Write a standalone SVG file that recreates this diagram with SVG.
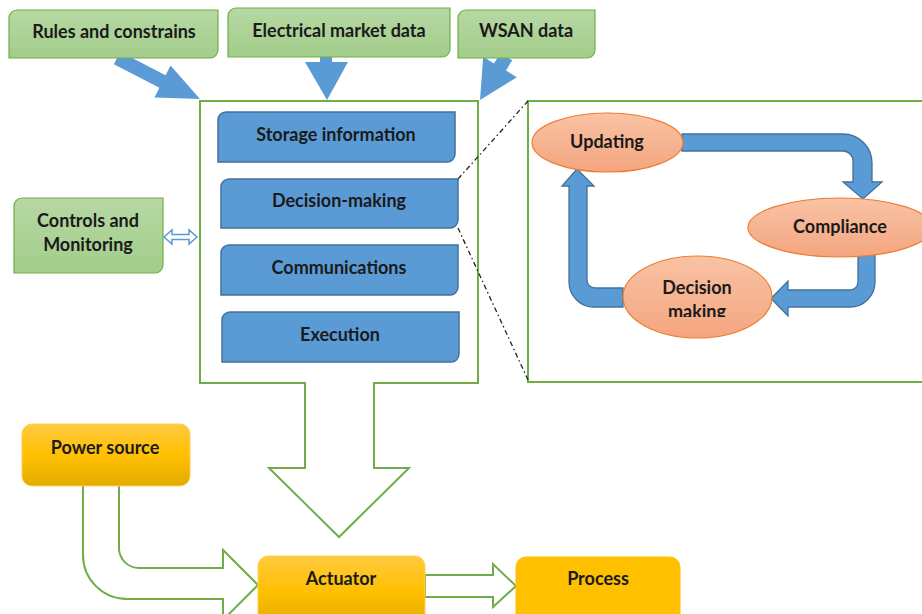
<svg xmlns="http://www.w3.org/2000/svg" width="922" height="614" viewBox="0 0 922 614">
<style>
text{font-family:Lato,"Liberation Sans",sans-serif;font-weight:bold;font-size:18px;fill:#1a1a1a;text-anchor:middle;dominant-baseline:central}
.g{fill:url(#gg);stroke:#70ad47;stroke-width:1.2}
.b{fill:#5b9bd5;stroke:#41719c;stroke-width:1.5}
.y{fill:url(#yg);stroke:#ffd24d;stroke-width:1}
.e{fill:url(#og);stroke:#ed7d31;stroke-width:1.2}
.ba{fill:#5b9bd5;stroke:#41719c;stroke-width:1.3}
.ta{fill:#5b9bd5;stroke:none}
.ho{fill:#fff;stroke:#70ad47;stroke-width:2}
.dd{fill:none;stroke:#222;stroke-width:1.3;stroke-dasharray:5 3 1.5 3}
</style>
<defs>
<linearGradient id="gg" x1="0" y1="0" x2="0" y2="1"><stop offset="0" stop-color="#b7d8a4"/><stop offset="1" stop-color="#a2cd8a"/></linearGradient>
<linearGradient id="yg" x1="0" y1="0" x2="0" y2="1"><stop offset="0" stop-color="#ffc940"/><stop offset="0.5" stop-color="#ffc000"/><stop offset="1" stop-color="#e3ab00"/></linearGradient>
<linearGradient id="og" x1="0" y1="0" x2="0" y2="1"><stop offset="0" stop-color="#f8c3a5"/><stop offset="1" stop-color="#f4a57f"/></linearGradient>
<clipPath id="dmclip"><rect x="600" y="250" width="200" height="67"/></clipPath>
</defs>
<rect width="922" height="614" fill="#fff"/>

<g id="main-box">
  <path class="ho" d="M200,101 L478,101 L478,383 L374,383 L374,468 L409,468 L339,537 L269,468 L305,468 L305,383 L200,383 Z"/>
</g>
<g id="detail-box">
  <rect x="528" y="101" width="400" height="281" fill="#fff" stroke="#70ad47" stroke-width="2"/>
</g>

<g id="connectors">
  <polygon class="ta" points="120.1,51.7 165.6,75.2 170.5,65.4 200,99 154.5,97.6 159.4,87.8 113.9,64.3"/>
  <polygon class="ta" points="320,50 332,50 332,62 348,62 327,100 305,62 320,62"/>
  <polygon class="ta" points="512.2,60.3 506,70.6 516.8,77.2 480,100 483.2,56.8 494,63.4 500.2,53.1"/>
  <path class="ho" d="M164,237 L172,230 L172,234.5 L189,234.5 L189,230 L197,237 L189,244 L189,239.5 L172,239.5 L172,244 Z" style="stroke:#5b9bd5;stroke-width:1.5"/>
  <line class="dd" x1="458" y1="179" x2="528" y2="101"/>
  <line class="dd" x1="458" y1="228" x2="528" y2="380"/>
  <path class="ba" d="M682,134 L843,134 A29,29 0 0 1 872,163 L872,182 L882,182 L863,199 L843,182 L853,182 L853,161 A10,10 0 0 0 843,151 L682,151 Z"/>
  <path class="ba" d="M858,254 L875,254 L875,282 A25,25 0 0 1 850,307 L788,307 L788,316 L771,298.5 L788,281 L788,290 L850,290 A8,8 0 0 0 858,282 Z"/>
  <path class="ba" d="M623,288 L595,288 A8,8 0 0 1 587,280 L587,186 L594,186 L577,169 L562,186 L569,186 L569,282 A25,25 0 0 0 594,307 L623,307 Z"/>
  <path class="ho" d="M83,485 L119,485 L119,548 A20,20 0 0 0 139,568 L223,568 L223,550 L258,585 L223,620 L223,599 L127,599 A44,44 0 0 1 83,555 Z"/>
  <path class="ho" d="M425,575 L493,575 L493,564 L516,586 L493,607 L493,597 L425,597 Z"/>
</g>

<g id="rules">
  <path class="g" d="M17,10 H218 V50 A8,8 0 0 1 210,58 H9 V18 A8,8 0 0 1 17,10 Z"/>
  <text x="114" y="31">Rules and constrains</text>
</g>
<g id="electrical">
  <path class="g" d="M236,8 H450 V49 A8,8 0 0 1 442,57 H228 V16 A8,8 0 0 1 236,8 Z"/>
  <text x="339" y="30">Electrical market data</text>
</g>
<g id="wsan">
  <path class="g" d="M466,10 H595 V50 A8,8 0 0 1 587,58 H458 V18 A8,8 0 0 1 466,10 Z"/>
  <text x="526" y="30">WSAN data</text>
</g>
<g id="controls">
  <path class="g" d="M22,198 H163 V265 A8,8 0 0 1 155,273 H14 V206 A8,8 0 0 1 22,198 Z"/>
  <text x="88" y="220">Controls and</text>
  <text x="88" y="244">Monitoring</text>
</g>

<g id="storage">
  <path class="b" d="M226,112 H455 V154 A8,8 0 0 1 447,162 H218 V120 A8,8 0 0 1 226,112 Z"/>
  <text x="336" y="134">Storage information</text>
</g>
<g id="decision-making">
  <path class="b" d="M229,179 H458 V220 A8,8 0 0 1 450,228 H221 V187 A8,8 0 0 1 229,179 Z"/>
  <text x="339" y="200">Decision-making</text>
</g>
<g id="communications">
  <path class="b" d="M229,245 H458 V287 A8,8 0 0 1 450,295 H221 V253 A8,8 0 0 1 229,245 Z"/>
  <text x="339" y="267">Communications</text>
</g>
<g id="execution">
  <path class="b" d="M230,312 H459 V354 A8,8 0 0 1 451,362 H222 V320 A8,8 0 0 1 230,312 Z"/>
  <text x="340" y="334">Execution</text>
</g>

<g id="updating">
  <ellipse class="e" cx="607.5" cy="142.5" rx="75.5" ry="29.5"/>
  <text x="607" y="141">Updating</text>
</g>
<g id="compliance">
  <ellipse class="e" cx="840" cy="227.5" rx="92" ry="29.5"/>
  <text x="840" y="226">Compliance</text>
</g>
<g id="decision-loop">
  <ellipse class="e" cx="697.5" cy="297" rx="74.5" ry="41"/>
  <text x="697" y="287">Decision</text>
  <text x="697" y="311" clip-path="url(#dmclip)">making</text>
</g>

<g id="power-source">
  <rect class="y" x="22" y="424" width="168" height="62" rx="10"/>
  <text x="105" y="447">Power source</text>
</g>
<g id="actuator">
  <rect class="y" x="258" y="556" width="167" height="70" rx="10"/>
  <text x="341" y="578">Actuator</text>
</g>
<g id="process">
  <rect x="516" y="557" width="164" height="70" rx="10" fill="#ffc000" stroke="#ffc000"/>
  <text x="598" y="578">Process</text>
</g>
</svg>
